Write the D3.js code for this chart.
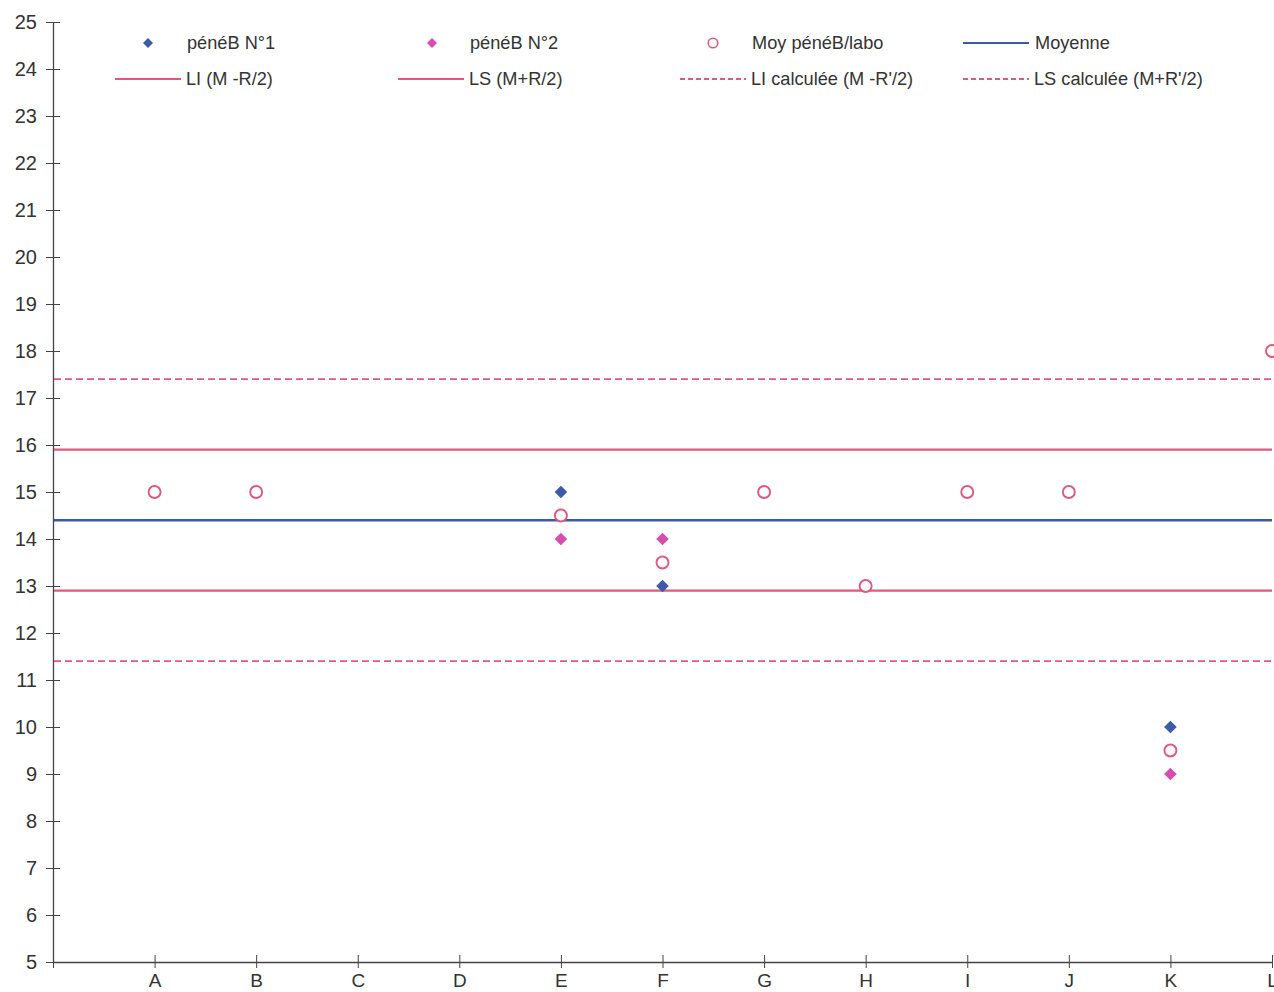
<!DOCTYPE html>
<html>
<head>
<meta charset="utf-8">
<script src="https://cdn.jsdelivr.net/npm/d3@7"></script>
<style>
  html, body { margin: 0; padding: 0; background: #fff; }
  svg { display: block; font-family: "Liberation Sans", Arial, sans-serif; }
</style>
</head>
<body>
<svg id="chart" width="1274" height="992"></svg>
<script>
// Laboratories on the x axis
const labs = ["A", "B", "C", "D", "E", "F", "G", "H", "I", "J", "K", "L"];
// Individual results (null = no result)
const pene1 = [null, null, null, null, 15, 13, null, null, null, null, 10, null];
const pene2 = [null, null, null, null, 14, 14, null, null, null, null, 9, null];
// Mean per laboratory
const moyLabo = [15, 15, null, null, 14.5, 13.5, 15, 13, 15, 15, 9.5, 18];
// Reference lines
const moyenne = 14.4;
const demiR = 1.5;      // R/2
const demiRprime = 3.0; // R'/2
const yTicks = d3.range(5, 26, 1);

const colBlue = "#3b5ba9";
const colMagenta = "#d64fae";
const colRed = "#e0587c";
const colAxis = "#444";

const svg = d3.select("#chart");
const x = d3.scaleLinear().domain([0, labs.length]).range([53, 1272]);
const y = d3.scaleLinear().domain([5, 25]).range([962, 22]);

// Y axis
const yAxis = svg.append("g").attr("transform", `translate(${x(0)},0)`)
  .call(d3.axisLeft(y).tickValues(yTicks).tickSize(7).tickSizeOuter(0).tickPadding(9));
yAxis.select(".domain").attr("stroke", colAxis).attr("stroke-width", 1.3);
yAxis.selectAll(".tick line").attr("stroke", colAxis).attr("x2", 7).attr("x1", -7);
yAxis.selectAll(".tick text").attr("font-size", 20).attr("fill", "#333")
  .attr("font-family", "Liberation Sans, Arial, sans-serif");

// X axis
const xAxis = svg.append("g").attr("transform", `translate(0,${y(5)})`)
  .call(d3.axisBottom(x).tickValues(d3.range(0, labs.length + 1))
    .tickFormat(i => i === 0 ? "" : labs[i - 1]).tickSize(6).tickSizeOuter(0).tickPadding(6));
xAxis.select(".domain").attr("stroke", colAxis).attr("stroke-width", 1.3);
xAxis.selectAll(".tick line").attr("stroke", colAxis).attr("y1", -7).attr("y2", 6);
xAxis.selectAll(".tick text").attr("font-size", 19).attr("fill", "#333")
  .attr("font-family", "Liberation Sans, Arial, sans-serif");

// Horizontal reference lines
const refLines = [
  { v: moyenne + demiRprime, color: colRed, dash: "7,4", w: 1.8 },
  { v: moyenne + demiR, color: colRed, dash: null, w: 2.2 },
  { v: moyenne, color: colBlue, dash: null, w: 2.4 },
  { v: moyenne - demiR, color: colRed, dash: null, w: 2.2 },
  { v: moyenne - demiRprime, color: colRed, dash: "7,4", w: 1.8 }
];
svg.append("g").selectAll("line").data(refLines).join("line")
  .attr("x1", x(0) + 1).attr("x2", x(labs.length))
  .attr("y1", d => y(d.v)).attr("y2", d => y(d.v))
  .attr("stroke", d => d.color).attr("stroke-width", d => d.w)
  .attr("stroke-dasharray", d => d.dash);

const diamond = d3.symbol().type(d3.symbolSquare).size(80);

function points(arr) {
  return arr.map((v, i) => ({ v, i })).filter(d => d.v !== null);
}

// Means per lab (hollow circles)
svg.append("g").selectAll("circle").data(points(moyLabo)).join("circle")
  .attr("cx", d => x(d.i + 1)).attr("cy", d => y(d.v)).attr("r", 6)
  .attr("fill", "#fff").attr("stroke", colRed).attr("stroke-width", 1.9);

// Individual results (diamonds)
svg.append("g").selectAll("path").data(points(pene1)).join("path")
  .attr("d", diamond).attr("fill", colBlue)
  .attr("transform", d => `translate(${x(d.i + 1)},${y(d.v)}) rotate(45)`);
svg.append("g").selectAll("path").data(points(pene2)).join("path")
  .attr("d", diamond).attr("fill", colMagenta)
  .attr("transform", d => `translate(${x(d.i + 1)},${y(d.v)}) rotate(45)`);

// Legend
const legend = svg.append("g").attr("font-size", 18.2).attr("fill", "#333");
const legItems = [
  { kind: "d", color: colBlue, label: "pénéB  N°1", sx: 148, tx: 187, ty: 43 },
  { kind: "d", color: colMagenta, label: "pénéB  N°2", sx: 432, tx: 470, ty: 43 },
  { kind: "c", color: colRed, label: "Moy pénéB/labo", sx: 713, tx: 752, ty: 43 },
  { kind: "l", color: colBlue, label: "Moyenne", x1: 963, x2: 1029, tx: 1035, ty: 43 },
  { kind: "l", color: colRed, label: "LI (M -R/2)", x1: 115, x2: 181, tx: 186, ty: 79 },
  { kind: "l", color: colRed, label: "LS (M+R/2)", x1: 398, x2: 464, tx: 469, ty: 79 },
  { kind: "l", color: colRed, dash: "5,3", label: "LI calculée (M -R'/2)", x1: 680, x2: 746, tx: 751, ty: 79 },
  { kind: "l", color: colRed, dash: "5,3", label: "LS calculée (M+R'/2)", x1: 963, x2: 1029, tx: 1034, ty: 79 }
];
legItems.forEach(it => {
  if (it.kind === "d") {
    legend.append("path").attr("d", d3.symbol().type(d3.symbolSquare).size(50))
      .attr("fill", it.color).attr("transform", `translate(${it.sx},${it.ty}) rotate(45)`);
  } else if (it.kind === "c") {
    legend.append("circle").attr("cx", it.sx).attr("cy", it.ty).attr("r", 4.8)
      .attr("fill", "#fff").attr("stroke", it.color).attr("stroke-width", 1.5);
  } else {
    legend.append("line").attr("x1", it.x1).attr("x2", it.x2).attr("y1", it.ty).attr("y2", it.ty)
      .attr("stroke", it.color).attr("stroke-width", 2.2).attr("stroke-dasharray", it.dash || null);
  }
  legend.append("text").attr("x", it.tx).attr("y", it.ty).attr("dy", "0.35em").text(it.label);
});
</script>
</body>
</html>
